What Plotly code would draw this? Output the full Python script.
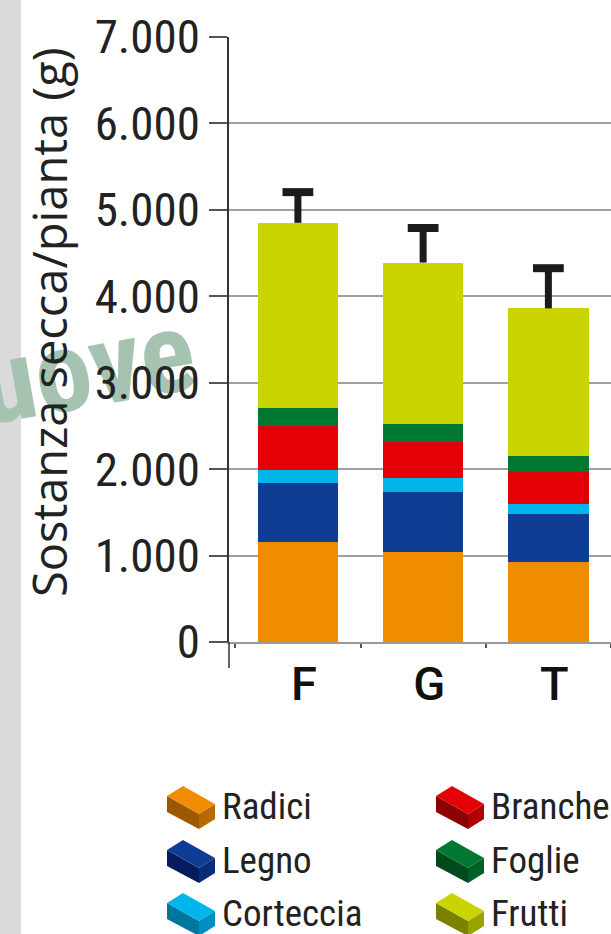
import plotly.graph_objects as go

# ---------------- data ----------------
categories = ["F", "G", "T"]
radici = [1155, 1040, 925]
legno = [690, 690, 555]
corteccia = [145, 165, 115]
branche = [505, 415, 370]
foglie = [210, 210, 185]
frutti = [2145, 1870, 1710]
errore = [355, 400, 465]

series_names = ["Radici", "Legno", "Corteccia", "Branche", "Foglie", "Frutti"]
series_values = [radici, legno, corteccia, branche, foglie, frutti]
series_colors = ["#f08c00", "#0f3d94", "#00b5ea", "#e30007", "#007832", "#cad400"]
side_colors = ["#9a5800", "#071c5e", "#00769e", "#8c0004", "#004a1e", "#7c8200"]
end_colors = ["#b66a00", "#0a2a7a", "#0090c0", "#b00006", "#005e28", "#9aa200"]

y_tickvals = [0, 1000, 2000, 3000, 4000, 5000, 6000, 7000]
y_ticktext = ["0", "1.000", "2.000", "3.000", "4.000", "5.000", "6.000", "7.000"]
y_title = "Sostanza secca/pianta (g)"

NARROW = "Liberation Sans Narrow, Arial Narrow, Roboto Condensed, Open Sans, sans-serif"

# ---------------- geometry helpers (pixel -> paper) ----------------
W, H = 611, 934
PL, PR, PT, PB = 229, 611, 37, 642
def px(x):
    return (x - PL) / (PR - PL)
def py(y):
    return (PB - y) / (PB - PT)

fig = go.Figure()
for name, vals, col in zip(series_names, series_values, series_colors):
    fig.add_trace(go.Bar(x=categories, y=vals, name=name, marker=dict(color=col, line=dict(width=0)),
                         showlegend=False, hoverinfo="skip"))

totals = [sum(v) for v in zip(*series_values)]
tops = [t + e for t, e in zip(totals, errore)]
fig.add_trace(go.Scatter(
    x=categories, y=tops, mode="markers",
    marker=dict(symbol="line-ew", size=22, color="#1b1b1e", line=dict(width=8, color="#1b1b1e")),
    error_y=dict(type="data", symmetric=False, array=[0, 0, 0], arrayminus=errore,
                 width=0, thickness=7, color="#1b1b1e"),
    showlegend=False, hoverinfo="skip"))

shapes = []
annotations = []

# grey page edge at left
shapes.append(dict(type="rect", xref="paper", yref="paper", x0=px(0), x1=px(21), y0=py(934), y1=py(0),
                   fillcolor="#dadada", line=dict(width=0), layer="below"))

# watermark
shapes.append(dict(type="rect", xref="paper", yref="paper", x0=px(-30), x1=px(200), y0=py(430), y1=py(290),
                   fillcolor="rgba(0,0,0,0)", line=dict(width=0), layer="below",
                   label=dict(text="uove", textangle=-10, textposition="middle center",
                              font=dict(family=NARROW, size=114, color="#a6c2b0", weight="bold"))))

# y axis line extension below x axis
shapes.append(dict(type="line", xref="paper", yref="paper", x0=0, x1=0, y0=py(642), y1=py(668),
                   line=dict(color="#333333", width=1.5)))

# axis title (as rotated text)
annotations.append(dict(xref="paper", yref="paper", x=px(49), y=py(322), text=y_title, textangle=-90,
                        showarrow=False, xanchor="center", yanchor="middle",
                        font=dict(family="Open Sans", size=47, color="#222222")))

# custom legend with brick icons
legend_pos = [(167, 786), (167, 840), (167, 893), (436, 786), (436, 840), (436, 893)]
def poly(pts):
    return "M " + " L ".join(f"{px(x):.5f},{py(y):.5f}" for x, y in pts) + " Z"

for i, name in enumerate(series_names):
    x0, y0 = legend_pos[i]
    top = [(0, 10), (16, 0), (48, 18), (32, 28)]
    side = [(0, 10), (32, 28), (32, 43), (0, 26)]
    end = [(32, 28), (48, 18), (48, 33), (32, 43)]
    for pts, col in ((side, side_colors[i]), (end, end_colors[i]), (top, series_colors[i])):
        shapes.append(dict(type="path", xref="paper", yref="paper",
                           path=poly([(x0 + a, y0 + b) for a, b in pts]),
                           fillcolor=col, line=dict(width=0)))
    annotations.append(dict(xref="paper", yref="paper", x=px(x0 + 53), y=py(y0 + 20),
                            text=name, showarrow=False, xanchor="left", yanchor="middle",
                            font=dict(family=NARROW, size=37, color="#222222")))

fig.update_layout(
    width=W, height=H,
    margin=dict(l=PL, r=W - PR, t=PT, b=H - PB, autoexpand=False),
    paper_bgcolor="white", plot_bgcolor="white",
    barmode="stack", bargap=0.356,
    shapes=shapes, annotations=annotations,
    showlegend=False,
    xaxis=dict(type="category", range=[-0.55, 2.5], showline=True, linecolor="#9a9a9a", linewidth=1.5,
               ticks="outside", tickson="boundaries", ticklen=4, tickcolor="#555555", tickwidth=1.5,
               showgrid=False, zeroline=False, ticklabelshift=6,
               tickfont=dict(family="Roboto", size=47, color="#111111", weight=500)),
    yaxis=dict(range=[0, 7000], tickmode="array", tickvals=y_tickvals, ticktext=y_ticktext,
               ticks="outside", ticklen=18, tickcolor="#555555", tickwidth=1.5,
               showgrid=True, gridcolor="#a0a0a0", gridwidth=1.5, zeroline=False,
               showline=True, linecolor="#333333", linewidth=1.5,
               tickfont=dict(family=NARROW, size=47, color="#222222")),
)

fig.write_html("out.html", config={"displayModeBar": False},
               post_script="document.body.style.margin='0';")
